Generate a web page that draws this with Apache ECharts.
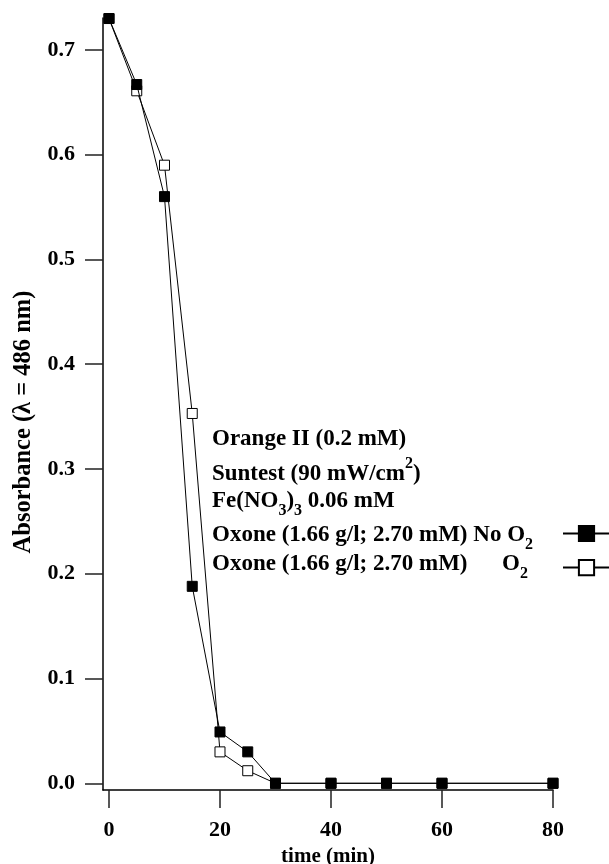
<!DOCTYPE html>
<html>
<head>
<meta charset="utf-8">
<script src="https://cdn.jsdelivr.net/npm/echarts@6/dist/echarts.min.js"></script>
<style>
  html, body { margin: 0; padding: 0; background: #fff; }
  #chart { width: 609px; height: 864px; }
</style>
</head>
<body>
<div id="chart"></div>
<script>
// Irradiation time (min)
const timeMin = [0, 5, 10, 15, 20, 25, 30, 40, 50, 60, 80];
// Absorbance at 486 nm, oxone without O2 (filled squares)
const absNoO2 = [0.730, 0.667, 0.560, 0.188, 0.049, 0.030, 0, 0, 0, 0, 0];
// Absorbance at 486 nm, oxone with O2 (open squares)
const absO2 = [0.730, 0.661, 0.590, 0.353, 0.030, 0.012, 0, 0, 0, 0, 0];
// Axis tick values
const xTicks = [0, 20, 40, 60, 80];
const yTicks = [0, 0.1, 0.2, 0.3, 0.4, 0.5, 0.6, 0.7];
// Series names
const nameNoO2 = 'Oxone (1.66 g/l; 2.70 mM) No O2';
const nameO2 = 'Oxone (1.66 g/l; 2.70 mM) O2';

const SERIF = '"Liberation Serif", "Times New Roman", serif';
const toPairs = (ys) => timeMin.map((t, i) => [t, ys[i]]);

const txt = (size, lh, va) => ({ fontFamily: SERIF, fontSize: size, fontWeight: 'bold', color: '#000', lineHeight: lh, verticalAlign: va });
const baseText = { fontFamily: SERIF, fontSize: 23, fontWeight: 'bold', fill: '#000' };
const rich = {
  a: txt(23, 30),          // plain line
  b: txt(23, 36),          // line carrying a superscript
  c: txt(23, 34),          // line carrying subscripts
  sub: txt(16, 6, 'bottom'),
  sup: txt(16, 2, 'top')
};
function noteLine(text, y) {
  return {
    type: 'text', left: 212, top: y, z: 10,
    style: Object.assign({ text: text, rich: rich }, baseText)
  };
}

const chart = echarts.init(document.getElementById('chart'), null, { renderer: 'canvas' });
chart.setOption({
  animation: false,
  backgroundColor: '#fff',
  grid: { left: 103, right: 56, top: 18, bottom: 74, containLabel: false, outerBoundsMode: 'none' },
  xAxis: {
    type: 'value', min: -1.08, max: 80,
    name: 'time (min)', nameLocation: 'middle', nameGap: 50,
    nameTextStyle: { fontFamily: SERIF, fontSize: 21, fontWeight: 'bold', color: '#000' },
    axisLine: { show: true, onZero: false, lineStyle: { color: '#000', width: 1.5 } },
    axisTick: { show: true, length: 18, customValues: xTicks, lineStyle: { color: '#222', width: 1.5 } },
    axisLabel: { customValues: xTicks, margin: 29, fontFamily: SERIF, fontSize: 22, fontWeight: 'bold', color: '#000' },
    splitLine: { show: false }
  },
  yAxis: {
    type: 'value', min: -0.0064, max: 0.7305,
    name: 'Absorbance (\u03bb = 486 nm)', nameLocation: 'middle', nameGap: 65, nameRotate: 90,
    nameTextStyle: { fontFamily: SERIF, fontSize: 24.5, fontWeight: 'bold', color: '#000', padding: [0, 36, 0, 0] },
    axisLine: { show: true, onZero: false, lineStyle: { color: '#000', width: 1.5 } },
    axisTick: { show: true, length: 18, customValues: yTicks, lineStyle: { color: '#222', width: 1.5 } },
    axisLabel: { customValues: yTicks, margin: 28, fontFamily: SERIF, fontSize: 22, fontWeight: 'bold', color: '#000',
      formatter: (v) => v.toFixed(1) },
    splitLine: { show: false }
  },
  legend: {
    orient: 'vertical', left: 562, top: 524, padding: 0,
    itemWidth: 47, itemHeight: 19, itemGap: 16,
    selectedMode: false,
    formatter: () => '',
    textStyle: { fontSize: 1 },
    data: [nameNoO2, nameO2]
  },
  series: [
    {
      name: nameO2, type: 'line', data: toPairs(absO2), z: 2,
      symbol: 'rect', symbolSize: 10,
      lineStyle: { color: '#000', width: 1 },
      itemStyle: { color: '#fff', borderColor: '#000', borderWidth: 1 }
    },
    {
      name: nameNoO2, type: 'line', data: toPairs(absNoO2), z: 3,
      symbol: 'rect', symbolSize: 10,
      lineStyle: { color: '#000', width: 1 },
      itemStyle: { color: '#000', borderColor: '#000', borderWidth: 1 }
    }
  ],
  graphic: [
    noteLine('{a|Orange II (0.2 mM)}', 428),
    noteLine('{b|Suntest (90 mW/cm}{sup|2}{b|)}', 456),
    noteLine('{c|Fe(NO}{sub|3}{c|)}{sub|3}{c| 0.06 mM}', 490),
    noteLine('{c|Oxone (1.66 g/l; 2.70 mM) No O}{sub|2}', 524),
    noteLine('{c|Oxone (1.66 g/l; 2.70 mM)      O}{sub|2}', 553)
  ]
});
</script>
</body>
</html>
